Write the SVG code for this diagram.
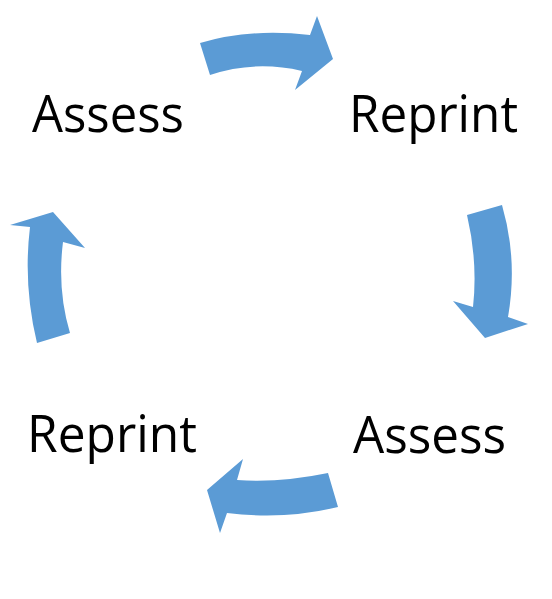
<svg xmlns="http://www.w3.org/2000/svg" width="552" height="599" viewBox="0 0 552 599">
<style>
.lbl{font-family:"Open Sans","Liberation Sans",sans-serif;font-size:52px;fill:#000}
.arr{fill:#5B9BD5;stroke:none}
</style>
<rect width="552" height="599" fill="#fff"/>
<g id="node-assess-top"><text class="lbl" x="32" y="132" textLength="152" lengthAdjust="spacingAndGlyphs">Assess</text></g>
<g id="node-reprint-top"><text class="lbl" x="349" y="132" textLength="169" lengthAdjust="spacingAndGlyphs">Reprint</text></g>
<g id="node-assess-bottom"><text class="lbl" x="353" y="453" textLength="153" lengthAdjust="spacingAndGlyphs">Assess</text></g>
<g id="node-reprint-bottom"><text class="lbl" x="27" y="452" textLength="170" lengthAdjust="spacingAndGlyphs">Reprint</text></g>
<g id="connectors">
<path class="arr" d="M200,43 Q250,28 310,35 L317,16 L333,59 L295,90 L302,71 Q255,60 210,75 Z"/>
<path class="arr" d="M467,215 Q478,262 473,307 L453,301 L485,338 L528,324 L508,317 Q518,260 502,205 Z"/>
<path class="arr" d="M328,473 Q280,483 237,480 L243,459 L207,490 L220,533 L227,513 Q285,520 338,507 Z"/>
<path class="arr" d="M37,343 Q23,285 30,227 L10,225 L53,212 L85,248 L63,242 Q57,290 70,333 Z"/>
</g>
</svg>
